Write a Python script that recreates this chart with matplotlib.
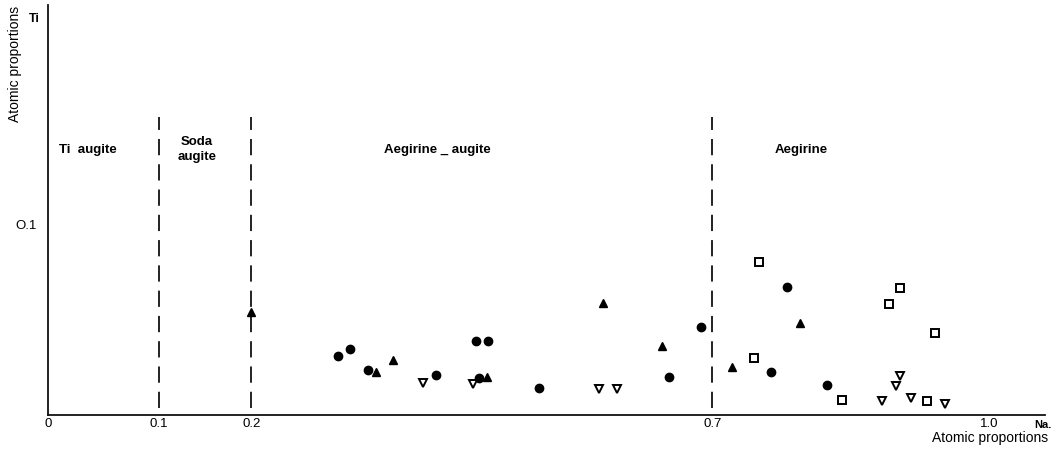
import matplotlib
matplotlib.use("Agg")
import matplotlib.pyplot as plt

plt.rcParams['font.family'] = ['Liberation Sans', 'DejaVu Sans']

# Na (x) and Ti (y) atomic proportions, per symbol group
circle_na = [0.294, 0.307, 0.326, 0.400, 0.444, 0.457, 0.447, 0.512, 0.653, 0.688, 0.781, 0.764, 0.824]
circle_ti = [0.0307, 0.0347, 0.0237, 0.0208, 0.0386, 0.0386, 0.0194, 0.0141, 0.0201, 0.0461, 0.0672, 0.0223, 0.0159]

tri_na = [0.200, 0.335, 0.354, 0.455, 0.581, 0.645, 0.721, 0.795]
tri_ti = [0.054, 0.0223, 0.0286, 0.0201, 0.0588, 0.0359, 0.0250, 0.0480]

dtri_na = [0.386, 0.440, 0.577, 0.597, 0.884, 0.899, 0.903, 0.915, 0.952]
dtri_ti = [0.0169, 0.0160, 0.0136, 0.0136, 0.0073, 0.0154, 0.0204, 0.0091, 0.0059]

sq_na = [0.750, 0.745, 0.841, 0.892, 0.903, 0.941, 0.933]
sq_ti = [0.0799, 0.0300, 0.0077, 0.0583, 0.0666, 0.0431, 0.0073]

boundaries = [0.1, 0.2, 0.7]
x_tick_vals = [0.1, 0.2, 0.7, 1.0]
x_tick_labels = ["0.1", "0.2", "0.7", "1.0"]
y_tick_vals = [0.1]
y_tick_labels = ["O.1"]

regions = ["Ti  augite", "Soda\naugite", "Aegirine _ augite", "Aegirine"]
region_x = [0.023, 0.141, 0.402, 0.796]

W, H = 1062, 453
fig = plt.figure(figsize=(W / 100, H / 100), dpi=100)
ax = fig.add_axes([48 / W, (H - 415) / H, (1045 - 48) / W, (415 - 5) / H])

xmin, xmax = -0.0206, 1.0607
ax.set_xlim(xmin, xmax)
ax.set_ylim(0, 0.2147)

for s in ['top', 'right']:
    ax.spines[s].set_visible(False)
for s in ['left', 'bottom']:
    ax.spines[s].set_linewidth(1.3)
    ax.spines[s].set_color('#111111')

ax.set_xticks([xmin] + x_tick_vals)
ax.set_xticklabels(["0"] + x_tick_labels, fontsize=9.5)
ax.set_yticks(y_tick_vals)
ax.set_yticklabels(y_tick_labels, fontsize=9.5)
ax.tick_params(axis='x', length=0, pad=2.5)
ax.tick_params(axis='y', length=0, pad=8)

for b in boundaries:
    ax.plot([b, b], [0.0037, 0.156], color='#111111', lw=1.3,
            linestyle=(0, (9, 5)))

ax.plot(circle_na, circle_ti, 'o', color='black', ms=6, ls='none')
ax.plot(tri_na, tri_ti, '^', color='black', ms=5.5, ls='none')
ax.plot(dtri_na, dtri_ti, 'v', mfc='white', mec='black', mew=1.4, ms=6, ls='none')
ax.plot(sq_na, sq_ti, 's', mfc='white', mec='black', mew=1.4, ms=6, ls='none')

for lab, xv in zip(regions, region_x):
    ax.text(xv, 0.139, lab, fontsize=9.5, fontweight='bold', ha='center',
            va='center', linespacing=1.35)

fig.text(40 / W, 1 - 19 / H, "Ti", fontsize=9, fontweight='bold', ha='right', va='center')
fig.text(15 / W, 1 - 64 / H, "Atomic proportions", fontsize=10, rotation=90,
         ha='center', va='center')
fig.text(1043 / W, 1 - 425 / H, "Na.", fontsize=8, fontweight='bold', ha='center', va='center')
fig.text(990 / W, 1 - 438 / H, "Atomic proportions", fontsize=10, ha='center', va='center')

fig.savefig("out.png", dpi=100)
